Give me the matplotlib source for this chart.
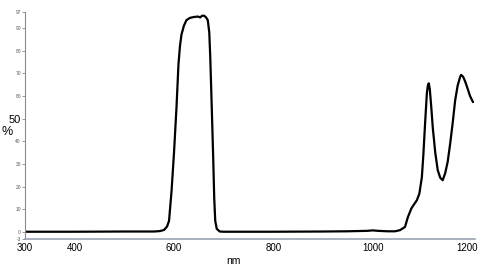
import matplotlib.pyplot as plt
from matplotlib.transforms import ScaledTranslation

# transmission curve
wavelength = [300, 400, 500, 560, 572, 580, 586, 590, 595, 600, 605, 609, 612,
              615, 620, 625, 632, 640, 648, 653, 656, 660, 664, 668, 671, 673,
              676, 679, 681, 683, 686, 692, 700, 750, 800, 900, 950, 990, 1000,
              1010, 1030, 1045, 1055, 1065, 1071, 1078, 1084, 1089, 1094, 1099,
              1102, 1105, 1109, 1111, 1113, 1115, 1118, 1121, 1126, 1131, 1136,
              1141, 1146, 1151, 1156, 1161, 1166, 1171, 1176, 1178, 1182, 1186,
              1190, 1196, 1202]
transmission = [0.2, 0.2, 0.3, 0.3, 0.5, 1.0, 2.5, 5, 18, 35, 55, 74, 82,
                87, 91, 93.4, 94.4, 94.8, 95.0, 94.6, 95.3, 95.4, 94.8, 93.4, 88, 77,
                55, 32, 15, 5, 1.5, 0.3, 0.2, 0.2, 0.2, 0.3, 0.4, 0.6, 0.8,
                0.6, 0.4, 0.4, 0.9, 2.3, 6.7, 10.5, 12.5, 14.1, 17, 24.2,
                34, 46, 61, 64.5, 65.6, 63, 55, 46, 35, 27.3, 24,
                22.9, 26, 31, 39, 48, 58, 64.5, 68.4, 69.3, 68.5, 66.5,
                64, 60, 57.3]

x_ticks = [300, 400, 600, 800, 1000, 1200]
y_ticks = [-3, 0, 10, 20, 30, 40, 50, 60, 70, 80, 90, 97]

fig = plt.figure(figsize=(4.8, 2.8), dpi=100)
ax = fig.add_axes([25 / 480, 1 - 239 / 280, 450 / 480, 227 / 280])

ax.plot(wavelength, transmission, color="black", linewidth=1.6,
        solid_joinstyle="round", solid_capstyle="round")

ax.set_xlim(300, 1206)
ax.set_ylim(-3, 97)

ax.set_xticks(x_ticks)
ax.set_xticklabels([str(t) for t in x_ticks], family="Liberation Sans", fontsize=7)
ax.tick_params(axis="x", length=0, pad=3)
# last label sits a little left of its tick in the original
last = ax.get_xticklabels()[-1]
last.set_transform(last.get_transform() + ScaledTranslation(-5 / 100, 0, fig.dpi_scale_trans))

ax.set_yticks(y_ticks)
ax.set_yticklabels([str(t) for t in y_ticks], family="Liberation Sans", fontsize=3.5,
                   color="#555555")
ax.tick_params(axis="y", length=2, width=0.6, color="#888888", pad=1)
for lab in ax.get_yticklabels():
    if lab.get_text() == "50":
        lab.set_fontsize(8)
        lab.set_color("black")

for side in ["top", "right"]:
    ax.spines[side].set_visible(False)
ax.spines["left"].set_color("#8c8c8c")
ax.spines["left"].set_linewidth(0.8)
ax.spines["bottom"].set_color("#9aa3b3")
ax.spines["bottom"].set_linewidth(1.2)

fig.text(233 / 480, 1 - 261 / 280, "nm", family="Liberation Sans", fontsize=7.5,
         ha="center", va="center")
fig.text(7 / 480, 1 - 132 / 280, "%", family="Liberation Sans", fontsize=9,
         ha="center", va="center")

fig.savefig("out.png", dpi=100, facecolor="white")
